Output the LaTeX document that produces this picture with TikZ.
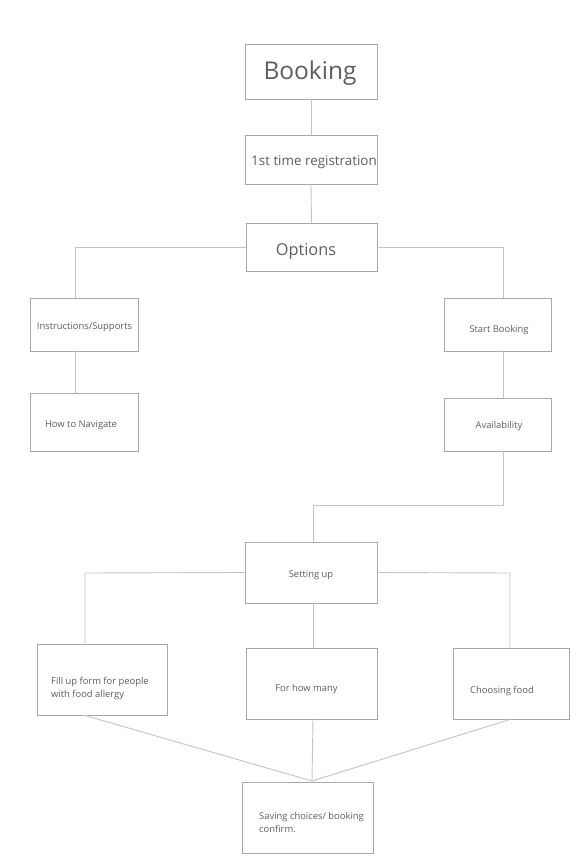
\documentclass[tikz,border=0pt]{standalone}
\usepackage{fontspec}
\setmainfont{Open Sans}
\definecolor{boxline}{HTML}{A8A8A8}
\definecolor{wire}{HTML}{C4C4C4}
\definecolor{ink}{HTML}{5E5E5E}
\begin{document}
\begin{tikzpicture}[x=1pt,y=-1pt,
  box/.style={draw=boxline,line width=0.9pt,fill=white,inner sep=0pt},
  lbl/.style={text=ink,inner sep=0pt,font=\fontsize{9.4}{13}\selectfont},
  wirestyle/.style={draw=wire,line width=0.9pt}]
\useasboundingbox (0,0) rectangle (581,861);

% junction points of the elbow connectors
\coordinate (optL) at (75,247);
\coordinate (optR) at (503,247);
\coordinate (avDn) at (503,505);
\coordinate (setIn) at (313,505);
\coordinate (setL) at (85,573);
\coordinate (setR) at (510,573);
\coordinate (join) at (312,781);

% boxes
\node[box,minimum width=132pt,minimum height=55pt] (booking) at (311,71.5) {};
\node[box,minimum width=132pt,minimum height=49pt] (reg) at (311,159.5) {};
\node[box,minimum width=131pt,minimum height=48pt] (options) at (311.5,247) {};
\node[box,minimum width=108pt,minimum height=53pt] (instr) at (84,324.5) {};
\node[box,minimum width=108pt,minimum height=58pt] (nav) at (84,422) {};
\node[box,minimum width=107pt,minimum height=53pt] (start) at (497.5,324.5) {};
\node[box,minimum width=107pt,minimum height=53pt] (avail) at (497.5,424.5) {};
\node[box,minimum width=132pt,minimum height=61pt] (setup) at (311,572.5) {};
\node[box,minimum width=130pt,minimum height=71pt] (allergy) at (102,679.5) {};
\node[box,minimum width=131pt,minimum height=71pt] (howmany) at (311.5,683.5) {};
\node[box,minimum width=116pt,minimum height=71pt] (food) at (511,683.5) {};
\node[box,minimum width=131pt,minimum height=71pt] (saving) at (307.5,817.5) {};

% connectors
\begin{scope}[wirestyle]
\draw (booking.south) -- (reg.north);
\draw (reg.south) -- (options.north);
\draw (options.west) -- (optL) -- (optL |- instr.north);
\draw (instr.south -| optL) -- (nav.north -| optL);
\draw (options.east) -- (optR) -- (optR |- start.north);
\draw (start.south -| optR) -- (avail.north -| optR);
\draw (avail.south -| optR) -- (avDn) -- (setIn) -- (setIn |- setup.north);
\draw (setup.west) -- (setL) -- (setL |- allergy.north);
\draw (setup.south -| setIn) -- (howmany.north -| setIn);
\draw (setup.east) -- (setR) -- (setR |- food.north);
\draw (allergy.south -| setL) -- (join);
\draw (howmany.south -| setIn) -- (join);
\draw (food.south -| setR) -- (join);
\end{scope}

% labels
\node[lbl,font=\fontsize{24.5}{28}\selectfont] (tBooking) at (310,73) {Booking};
\node[lbl,font=\fontsize{13.4}{15}\selectfont] (tReg) at (314,162) {1st time registration};
\node[lbl,font=\fontsize{16.3}{19}\selectfont] (tOptions) at (306,251) {Options};
\node[lbl] (tInstr) at (84.5,327) {Instructions/Supports};
\node[lbl] (tNav) at (81,425) {How to Navigate};
\node[lbl] (tStart) at (499,330) {Start Booking};
\node[lbl] (tAvail) at (499,426) {Availability};
\node[lbl] (tSetup) at (311,575) {Setting up};
\node[lbl,align=left,anchor=west] (tAllergy) at (51,688.5) {Fill up form for people\\with food allergy};
\node[lbl] (tHow) at (306.5,689) {For how many};
\node[lbl] (tFood) at (502,691) {Choosing food};
\node[lbl,align=left,anchor=west] (tSaving) at (259,822.5) {Saving choices/ booking\\confirm.};
\end{tikzpicture}
\end{document}
